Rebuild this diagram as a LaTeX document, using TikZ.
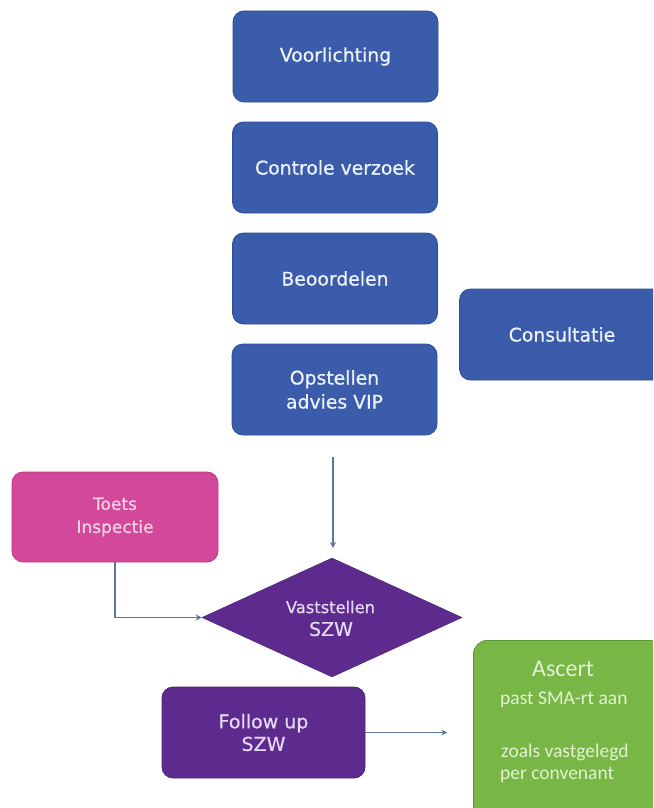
\documentclass[tikz,border=0pt]{standalone}
\usepackage{fontspec}
\setmainfont[FakeBold=0.6]{DejaVu Sans}
\newfontfamily\calib{Carlito}
\usetikzlibrary{arrows.meta,shapes.geometric}
\definecolor{boxblue}{HTML}{3B5CAB}
\definecolor{boxblueline}{HTML}{2F4D95}
\definecolor{boxpink}{HTML}{D4489A}
\definecolor{boxpinkline}{HTML}{B83A84}
\definecolor{boxpurple}{HTML}{5D2A8D}
\definecolor{boxpurpleline}{HTML}{4E2279}
\definecolor{boxgreen}{HTML}{78B646}
\definecolor{boxgreenline}{HTML}{5E9636}
\definecolor{arrowc}{HTML}{5E7694}
\definecolor{txtblue}{HTML}{EEF2FA}
\definecolor{txtpink}{HTML}{F6D3E8}
\definecolor{txtpurple}{HTML}{E6D8F2}
\definecolor{txtgreen}{HTML}{E2F2D2}
\tikzset{
  bluebox/.style={draw=boxblueline, fill=boxblue, line width=0.8pt, rounded corners=11pt,
    minimum width=205pt, minimum height=91pt, inner sep=0pt, text=txtblue,
    font=\fontsize{18.8}{24}\selectfont, align=center},
  pinkbox/.style={draw=boxpinkline, fill=boxpink, line width=0.8pt, rounded corners=11pt,
    minimum width=206pt, minimum height=90pt, inner sep=0pt, text=txtpink,
    font=\fontsize{17}{23}\selectfont, align=center},
  purplebox/.style={draw=boxpurpleline, fill=boxpurple, line width=0.8pt, rounded corners=11pt,
    minimum width=203pt, minimum height=91pt, inner sep=0pt, text=txtpurple,
    font=\fontsize{19}{22.5}\selectfont, align=center},
  greenbox/.style={draw=boxgreenline, fill=boxgreen, line width=0.8pt, rounded corners=14pt,
    minimum width=190pt, minimum height=180pt, inner sep=0pt},
  gtext/.style={text=txtgreen, inner sep=0pt, font=\calib\fontsize{19.5}{23}\selectfont},
  dtext/.style={text=txtpurple, inner sep=0pt},
  conn/.style={draw=arrowc, line width=1.1pt, -{Stealth[length=6pt,width=6pt]}},
}
\begin{document}
\begin{tikzpicture}[x=1pt,y=-1pt]
\useasboundingbox (0,0) rectangle (653,808);
\clip (0,0) rectangle (653,808);
\fill[white] (0,0) rectangle (653,808);

\node[bluebox] (voor) at (335.5,56.5) {Voorlichting};
\node[bluebox] (contr) at (335,167.5) {Controle verzoek};
\node[bluebox] (beoor) at (335,278.5) {Beoordelen};
\node[bluebox] (opst) at (334.5,389.5) {Opstellen\\advies VIP};
\node[bluebox] (cons) at (562,334.5) {Consultatie};

\node[pinkbox] (toets) at (115,517) {Toets\\Inspectie};

\node[diamond, fill=boxpurple, draw=boxpurpleline, line width=0.5pt, inner sep=0pt,
  minimum width=260pt, minimum height=119pt, aspect=2.18] (vast) at (332,617.5) {};
\node[dtext, font=\fontsize{16.3}{20}\selectfont] (vast1) at (330.5,607) {Vaststellen};
\node[dtext, font=\fontsize{19}{22}\selectfont] (vast2) at (331,629) {SZW};

\node[purplebox] (follow) at (263.5,732.5) {Follow up\\SZW};

\node[greenbox, anchor=north west] (ascert) at (473,640) {};
\node[gtext, font=\calib\fontsize{24}{28}\selectfont] (asc1) at (563,669) {Ascert};
\node[gtext, anchor=west] (asc2) at (500,700) {past SMA-rt aan};
\node[gtext, anchor=west] (asc3) at (501,752) {zoals vastgelegd};
\node[gtext, anchor=west] (asc4) at (500,775) {per convenant};

\coordinate (a1) at (333,457);
\coordinate (a2) at (333,548);
\draw[conn] (a1) -- (a2);
\draw[conn] (toets.south) |- (vast.west);
\draw[conn] (follow.east) -- ++(82,0);
\end{tikzpicture}
\end{document}
